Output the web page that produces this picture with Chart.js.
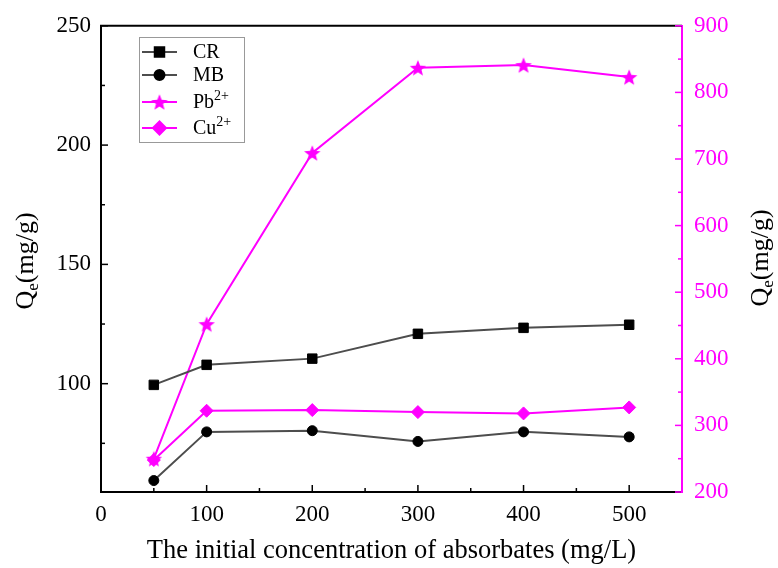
<!DOCTYPE html>
<html>
<head>
<meta charset="utf-8">
<script src="https://cdn.jsdelivr.net/npm/chart.js@4.4.0/dist/chart.umd.min.js"></script>
<style>
  html, body { margin: 0; padding: 0; background: #fff; }
</style>
</head>
<body>
<canvas id="chart" width="778" height="568"></canvas>
<script>
// data
const concentrations = [50, 100, 200, 300, 400, 500]
const crValues = [99.5, 107.9, 110.5, 120.9, 123.4, 124.7]
const mbValues = [59.4, 79.8, 80.3, 75.8, 79.8, 77.7]
const pbValues = [250, 452, 709, 837, 841, 823]
const cuValues = [248, 322, 323, 320, 318, 327]

const xTicks = [0, 100, 200, 300, 400, 500]
const xMinorTicks = [50, 150, 250, 350, 450]
const leftTicks = [100, 150, 200, 250]
const leftMinorTicks = [75, 125, 175, 225]
const rightTicks = [200, 300, 400, 500, 600, 700, 800, 900]
const rightMinorTicks = [250, 350, 450, 550, 650, 750, 850]

const legendLabels = ['CR', 'MB', 'Pb', 'Cu']
const legendSups = ['', '', '2+', '2+']

const FONT = '"Liberation Serif", "Times New Roman", serif'
const MAGENTA = '#FF00FF'

// filled five point star for the Pb marker
function makeStar(color) {
    const c = document.createElement('canvas')
    c.width = 18
    c.height = 18
    const g = c.getContext('2d')
    g.fillStyle = color
    g.beginPath()
    for (let i = 0; i < 10; i++) {
        const r = i % 2 === 0 ? 8.6 : 3.7
        const a = -Math.PI / 2 + i * Math.PI / 5
        g.lineTo(9 + r * Math.cos(a), 9.8 + r * Math.sin(a))
    }
    g.closePath()
    g.fill()
    return c
}
const starImg = makeStar(MAGENTA)

function drawQe(ctx, x, y) {
    ctx.save()
    ctx.translate(x, y)
    ctx.rotate(-Math.PI / 2)
    ctx.fillStyle = '#000'
    ctx.textBaseline = 'alphabetic'
    const big = '26px ' + FONT
    const small = '17px ' + FONT
    ctx.font = big
    const wQ = ctx.measureText('Q').width
    const wRest = ctx.measureText('(mg/g)').width
    ctx.font = small
    const wE = ctx.measureText('e').width
    let px = -(wQ + wE + wRest) / 2
    ctx.font = big
    ctx.fillText('Q', px, 0)
    px += wQ
    ctx.font = small
    ctx.fillText('e', px, 5)
    px += wE
    ctx.font = big
    ctx.fillText('(mg/g)', px, 0)
    ctx.restore()
}

const decorPlugin = {
    id: 'decor',
    afterDraw(chart) {
        const { ctx, chartArea: a, scales } = chart
        ctx.save()
        const line = (x1, y1, x2, y2) => {
            ctx.beginPath()
            ctx.moveTo(x1, y1)
            ctx.lineTo(x2, y2)
            ctx.stroke()
        }
        // top frame line
        ctx.strokeStyle = '#000'
        ctx.lineWidth = 2
        line(a.left - 1, a.top, a.right, a.top)

        // inward ticks
        ctx.lineWidth = 1.5
        xTicks.forEach(v => { const x = scales.x.getPixelForValue(v); line(x, a.bottom, x, a.bottom - 7) })
        xMinorTicks.forEach(v => { const x = scales.x.getPixelForValue(v); line(x, a.bottom, x, a.bottom - 4) })
        leftTicks.forEach(v => { const y = scales.y.getPixelForValue(v); line(a.left, y, a.left + 7, y) })
        leftMinorTicks.forEach(v => { const y = scales.y.getPixelForValue(v); line(a.left, y, a.left + 4, y) })
        ctx.strokeStyle = MAGENTA
        rightTicks.forEach(v => { const y = scales.y1.getPixelForValue(v); line(a.right, y, a.right - 7, y) })
        rightMinorTicks.forEach(v => { const y = scales.y1.getPixelForValue(v); line(a.right, y, a.right - 4, y) })

        // axis titles
        drawQe(ctx, 33, 261)
        drawQe(ctx, 768, 258)
        ctx.fillStyle = '#000'
        ctx.font = '26.5px ' + FONT
        ctx.textAlign = 'center'
        ctx.textBaseline = 'alphabetic'
        ctx.fillText('The initial concentration of absorbates (mg/L)', (a.left + a.right) / 2, 558)

        // legend box
        ctx.textAlign = 'left'
        ctx.strokeStyle = '#999'
        ctx.lineWidth = 1
        ctx.strokeRect(139.5, 37.5, 105, 105)
        const rows = [52, 75, 102, 128]
        chart.data.datasets.forEach((ds, i) => {
            const y = rows[i]
            ctx.strokeStyle = ds.borderColor
            ctx.lineWidth = 2
            line(142, y, 177, y)
            ctx.fillStyle = ds.pointBackgroundColor
            ctx.strokeStyle = ds.pointBorderColor
            Chart.helpers.drawPoint(ctx, { pointStyle: ds.pointStyle, radius: ds.pointRadius, borderWidth: 1, rotation: 0 }, 159.5, y)
            ctx.fillStyle = '#000'
            ctx.font = '20px ' + FONT
            ctx.textBaseline = 'middle'
            ctx.fillText(legendLabels[i], 193, y + 1)
            if (legendSups[i]) {
                const w = ctx.measureText(legendLabels[i]).width
                ctx.font = '14px ' + FONT
                ctx.fillText(legendSups[i], 193 + w, y - 6)
            }
        })
        ctx.restore()
    }
}

const toXY = (values) => values.map((v, i) => ({ x: concentrations[i], y: v }))

new Chart(document.getElementById('chart'), {
    type: 'line',
    data: {
        datasets: [{
            label: 'CR',
            data: toXY(crValues),
            yAxisID: 'y',
            borderColor: '#4d4d4d',
            borderWidth: 2,
            pointStyle: 'rect',
            pointRadius: 6.7,
            pointBackgroundColor: '#000',
            pointBorderColor: '#000',
            pointBorderWidth: 1
        }, {
            label: 'MB',
            data: toXY(mbValues),
            yAxisID: 'y',
            borderColor: '#4d4d4d',
            borderWidth: 2,
            pointStyle: 'circle',
            pointRadius: 5,
            pointBackgroundColor: '#000',
            pointBorderColor: '#000',
            pointBorderWidth: 1
        }, {
            label: 'Pb2+',
            data: toXY(pbValues),
            yAxisID: 'y1',
            borderColor: MAGENTA,
            borderWidth: 2,
            pointStyle: starImg,
            pointRadius: 8,
            pointBackgroundColor: MAGENTA,
            pointBorderColor: MAGENTA
        }, {
            label: 'Cu2+',
            data: toXY(cuValues),
            yAxisID: 'y1',
            borderColor: MAGENTA,
            borderWidth: 2,
            pointStyle: 'rectRot',
            pointRadius: 6.5,
            pointBackgroundColor: MAGENTA,
            pointBorderColor: MAGENTA,
            pointBorderWidth: 1
        }]
    },
    options: {
        responsive: false,
        animation: false,
        devicePixelRatio: 1,
        layout: { padding: { top: 22, left: 0, right: 0, bottom: 0 } },
        plugins: {
            legend: { display: false },
            tooltip: { enabled: false }
        },
        scales: {
            x: {
                type: 'linear',
                min: 0,
                max: 550,
                afterBuildTicks: (s) => { s.ticks = xTicks.map(v => ({ value: v })) },
                afterFit: (s) => { s.height = 76 },
                grid: { display: false, drawTicks: false },
                border: { display: true, color: '#000', width: 2 },
                ticks: { color: '#000', padding: 9, font: { family: FONT, size: 23 } }
            },
            y: {
                position: 'left',
                min: 54.6,
                max: 250,
                afterBuildTicks: (s) => { s.ticks = leftTicks.map(v => ({ value: v })) },
                afterFit: (s) => { s.width = 101 },
                grid: { display: false, drawTicks: false },
                border: { display: true, color: '#000', width: 2 },
                ticks: { color: '#000', padding: 10, font: { family: FONT, size: 23 } }
            },
            y1: {
                position: 'right',
                min: 200,
                max: 900,
                afterBuildTicks: (s) => { s.ticks = rightTicks.map(v => ({ value: v })) },
                afterFit: (s) => { s.width = 96 },
                grid: { display: false, drawTicks: false },
                border: { display: true, color: MAGENTA, width: 2 },
                ticks: { color: MAGENTA, padding: 12, font: { family: FONT, size: 23 } }
            }
        }
    },
    plugins: [decorPlugin]
})
</script>
</body>
</html>
